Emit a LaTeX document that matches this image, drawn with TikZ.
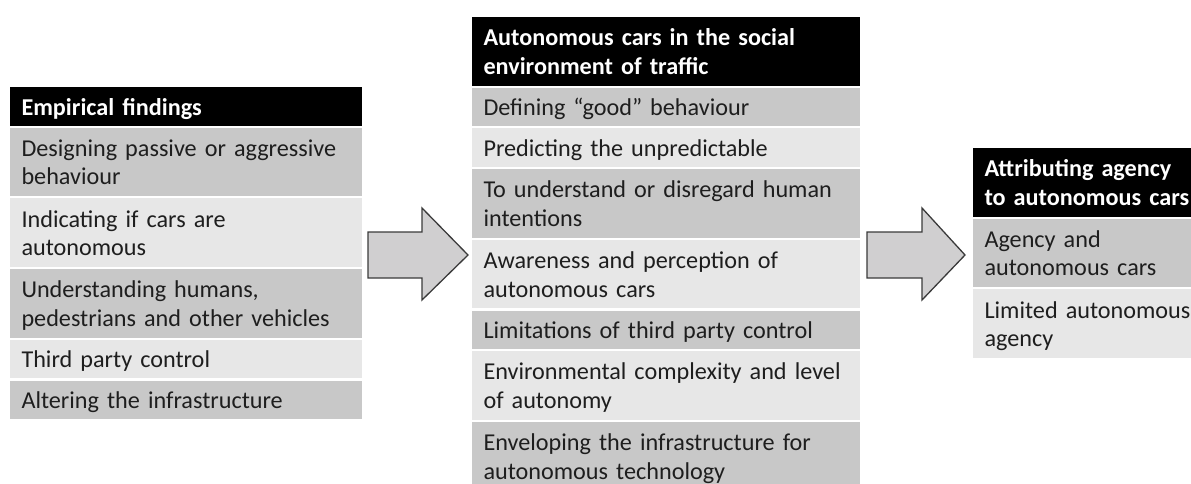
\documentclass[tikz,border=0pt]{standalone}
\usepackage{fontspec}
\setmainfont{Carlito}
\definecolor{rowdark}{RGB}{200,200,200}
\definecolor{rowlight}{RGB}{231,231,231}
\definecolor{inkgray}{RGB}{30,30,30}
\definecolor{arrowfill}{RGB}{208,207,208}
\definecolor{arrowline}{RGB}{58,58,58}
% one text line: fixed strut so rows of equal line count have equal height
\newcommand{\rowline}{\rule[-5.5pt]{0pt}{28.5pt}}
\begin{document}
\begin{tikzpicture}[x=1pt, y=-1pt,
  cell/.style={anchor=north west, inner xsep=11.5pt, inner ysep=0pt, outer sep=0pt,
    align=left, font=\fontsize{24.2}{28.5}\selectfont, text=inkgray},
  one/.style={minimum height=38.5pt},
  two/.style={minimum height=68.5pt},
  head/.style={cell, fill=black, text=white, font=\fontsize{24.2}{28.5}\selectfont\bfseries},
  dark/.style={cell, fill=rowdark},
  light/.style={cell, fill=rowlight},
  lcol/.style={text width=352pt-23pt},
  mcol/.style={text width=388pt-23pt},
  rcol/.style={text width=240pt-23pt},
  blockarrow/.style={fill=arrowfill, draw=arrowline, line width=1.3pt, line join=miter}]
\useasboundingbox (0,0) rectangle (1191,483);

% left column: empirical findings
\node[head, lcol, one] (l0) at (10,87) {\rowline Empirical findings};
\node[dark, lcol, two] (l1) at ([yshift=-2.2pt]l0.south west) {\rowline Designing passive or aggressive\\\rowline behaviour};
\node[light, lcol, two] (l2) at ([yshift=-2.2pt]l1.south west) {\rowline Indicating if cars are\\\rowline autonomous};
\node[dark, lcol, two] (l3) at ([yshift=-2.2pt]l2.south west) {\rowline Understanding humans,\\\rowline pedestrians and other vehicles};
\node[light, lcol, one] (l4) at ([yshift=-2.2pt]l3.south west) {\rowline Third party control};
\node[dark, lcol, one] (l5) at ([yshift=-2.2pt]l4.south west) {\rowline Altering the infrastructure};

% middle column: social environment of traffic
\node[head, mcol, two] (m0) at (472,17) {\rowline Autonomous cars in the social\\\rowline environment of traffic};
\node[dark, mcol, one] (m1) at ([yshift=-2.2pt]m0.south west) {\rowline Defining “good” behaviour};
\node[light, mcol, one] (m2) at ([yshift=-2.2pt]m1.south west) {\rowline Predicting the unpredictable};
\node[dark, mcol, two] (m3) at ([yshift=-2.2pt]m2.south west) {\rowline To understand or disregard human\\\rowline intentions};
\node[light, mcol, two] (m4) at ([yshift=-2.2pt]m3.south west) {\rowline Awareness and perception of\\\rowline autonomous cars};
\node[dark, mcol, one] (m5) at ([yshift=-2.2pt]m4.south west) {\rowline Limitations of third party control};
\node[light, mcol, two] (m6) at ([yshift=-2.2pt]m5.south west) {\rowline Environmental complexity and level\\\rowline of autonomy};
\node[dark, mcol, two] (m7) at ([yshift=-2.2pt]m6.south west) {\rowline Enveloping the infrastructure for\\\rowline autonomous technology};

% right column: agency
\node[head, rcol, two] (r0) at (973,148) {\rowline Attributing agency\\\rowline to autonomous cars};
\node[dark, rcol, two] (r1) at ([yshift=-2.2pt]r0.south west) {\rowline Agency and\\\rowline autonomous cars};
\node[light, rcol, two] (r2) at ([yshift=-2.2pt]r1.south west) {\rowline Limited autonomous\\\rowline agency};

% block arrows between the columns
\draw[blockarrow] (368,232) -- (422,232) -- (422,208) -- (468,255) -- (422,300) -- (422,278) -- (368,278) -- cycle;
\draw[blockarrow] (867,232) -- (922,232) -- (922,208) -- (965,255) -- (922,300) -- (922,278) -- (867,278) -- cycle;
\end{tikzpicture}
\end{document}
